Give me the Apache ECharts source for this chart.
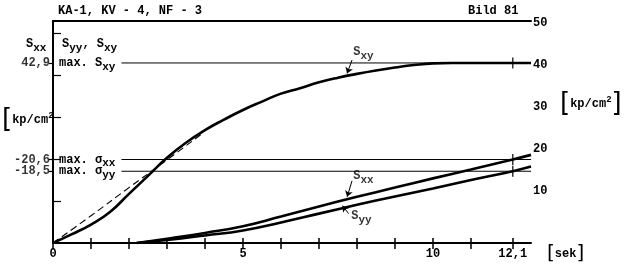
<!DOCTYPE html>
<html><head><meta charset="utf-8">
<script src="https://cdn.jsdelivr.net/npm/echarts@6/dist/echarts.min.js"></script>
<style>html,body{margin:0;padding:0;background:#fff}#c{width:624px;height:270px}</style>
</head><body><div id="c"></div>
<script>
const FONT = '"Liberation Mono", "DejaVu Sans Mono", monospace';

// time in seconds, stress in kp/cm^2 (as drawn against the right-hand scale)
const sxyTime   = [0, 0.5, 1, 1.5, 2, 2.5, 3, 3.5, 4, 4.5, 5, 5.5, 6, 6.5, 7, 7.5, 8, 8.5, 9, 9.5, 10, 10.5, 11, 11.5, 12, 12.58];
const sxyValues = [0, 2.1, 4.4, 7.4, 11.7, 16.0, 20.3, 23.9, 26.9, 29.4, 31.7, 33.7, 35.6, 36.9, 38.3, 39.4, 40.3, 41.1, 41.8, 42.4, 42.8, 42.9, 42.9, 42.9, 42.9, 42.9];
const dashTime   = [0, 1, 2, 3, 3.9];
const dashValues = [0, 6.5, 13.2, 19.8, 25.9];
const sxxTime   = [2.2, 3, 4, 5, 6, 7, 8, 9, 10, 11, 12.1, 12.58];
const sxxValues = [0, 1.0, 2.4, 4.0, 6.3, 8.7, 11.0, 13.2, 15.4, 17.5, 19.9, 21.0];
const syyTime   = [2.2, 3, 4, 5, 6, 7, 8, 9, 10, 11, 12.1, 12.58];
const syyValues = [0, 0.7, 1.8, 3.0, 4.9, 7.0, 9.1, 11.1, 13.0, 15.0, 17.1, 18.2];

// maximum lines: drawn level and printed label
const maxLevels = [42.9, 19.9, 17.1];
const maxLabels = ['42,9', '-20,6', '-18,5'];
const maxNames  = ['{m|max. S}{sub|xy}', '{m|max. σ}{sub|xx}', '{m|max. σ}{sub|yy}'];
const maxStart = 1.8, tEnd = 12.58, tMark = 12.1;

const xLabelValues = [0, 5, 10, 12.1];
const xLabelTexts  = ['0', '5', '10', '12,1'];
const xTickValues  = [0, 1, 2, 3, 4, 5, 6, 7, 8, 9, 10, 11, 12.1];
const rightTickValues = [10, 20, 30, 40, 50];

const rich = {
  m:   {fontFamily: FONT, fontSize: 12, fontWeight: 'bold', color: '#000'},
  sub: {fontFamily: FONT, fontSize: 11, fontWeight: 'bold', color: '#000', padding: [8, 0, 0, 0]},
  sup: {fontFamily: FONT, fontSize: 9, fontWeight: 'bold', color: '#000', padding: [0, 0, 8, 0]},
  br:  {fontFamily: 'DejaVu Sans', fontSize: 26, fontWeight: 'normal', color: '#000'}
};
const zip = (a, b) => a.map((t, i) => [t, b[i]]);

const chart = echarts.init(document.getElementById('c'), null, {renderer: 'canvas'});
const ann = [
  {value: [7.9, 45.5], text: '{m|S}{sub|xy}'},
  {value: [7.9, 16.0], text: '{m|S}{sub|xx}'},
  {value: [7.85, 6.4], text: '{m|S}{sub|yy}'}
];
const series = [
  {type: 'line', data: zip(sxyTime, sxyValues), smooth: true, showSymbol: false,
   lineStyle: {color: '#000', width: 2.6}, z: 5,
   markLine: {silent: true, symbol: ['none', 'arrow'], symbolSize: 6, label: {show: false},
     lineStyle: {color: '#000', width: 1, type: 'solid'},
     data: [[{coord: [7.87, 43.6]}, {coord: [7.74, 40.4]}],
            [{coord: [7.87, 14.8]}, {coord: [7.74, 11.0]}],
            [{coord: [7.78, 7.0]}, {coord: [7.62, 8.9]}]]}},
  {type: 'line', data: zip(dashTime, dashValues), smooth: true, showSymbol: false,
   lineStyle: {color: '#000', width: 1.1, type: [7, 4]}},
  {type: 'line', data: zip(sxxTime, sxxValues), smooth: true, showSymbol: false,
   lineStyle: {color: '#000', width: 2.6}},
  {type: 'line', data: zip(syyTime, syyValues), smooth: true, showSymbol: false,
   lineStyle: {color: '#000', width: 2.6}},
  {type: 'scatter', symbol: 'rect', symbolSize: [1.5, 11], itemStyle: {color: '#000'},
   data: maxLevels.map(v => [tMark, v]), z: 6},
  {type: 'scatter', symbolSize: 0, data: ann.map(a => ({value: a.value,
     label: {show: true, position: 'right', distance: 0, formatter: a.text, rich}}))},
  // left-hand value labels of the maxima
  {type: 'scatter', symbolSize: 0, labelLayout: {hideOverlap: false},
   data: maxLevels.map((v, i) => ({value: [0, v],
     label: {show: true, position: 'left', distance: 3, formatter: maxLabels[i],
       fontFamily: FONT, fontSize: 12, fontWeight: 'bold', color: '#000'}}))}
];
maxLevels.forEach((v, i) => {
  series.push({type: 'line', symbolSize: 0, showSymbol: true,
    lineStyle: {color: '#000', width: 1},
    data: [{value: [maxStart, v], label: {show: true, position: 'left', distance: 6,
             formatter: maxNames[i], rich}}, [tEnd, v]]});
});

chart.setOption({
  animation: false,
  backgroundColor: '#fff',
  grid: {left: 53, right: 93, top: 21, bottom: 27},
  xAxis: [
    {type: 'value', min: 0, max: 12.58, position: 'bottom',
     axisLine: {lineStyle: {color: '#000', width: 2}},
     axisTick: {show: true, customValues: xTickValues, length: 6, lineStyle: {color: '#000', width: 1.5}},
     axisLabel: {customValues: xLabelValues, color: '#000', fontFamily: FONT, fontSize: 12, fontWeight: 'bold', margin: 5,
       formatter: v => xLabelTexts[xLabelValues.indexOf(v)] ?? ''},
     splitLine: {show: false}},
    {type: 'value', min: 0, max: 12.58, position: 'bottom',
     axisLine: {show: false},
     axisTick: {show: true, inside: true, customValues: xTickValues, length: 5, lineStyle: {color: '#000', width: 1.5}},
     axisLabel: {show: false}, splitLine: {show: false}},
    {type: 'value', min: 0, max: 12.58, position: 'top',
     axisLine: {lineStyle: {color: '#000', width: 2}},
     axisTick: {show: false}, axisLabel: {show: false}, splitLine: {show: false}}
  ],
  yAxis: [
    {type: 'value', min: 0, max: 52.9, position: 'left',
     axisLine: {show: true, lineStyle: {color: '#000', width: 2}},
     axisTick: {show: true, customValues: maxLevels, length: 4, lineStyle: {color: '#000', width: 1.2}},
     axisLabel: {show: false},
     splitLine: {show: false}},
    {type: 'value', min: 0, max: 52.9, position: 'right',
     axisLine: {show: true, lineStyle: {color: '#000', width: 2}},
     axisTick: {show: true, customValues: rightTickValues, length: 8, lineStyle: {color: '#000', width: 1.2}},
     axisLabel: {customValues: rightTickValues, color: '#000', fontFamily: FONT, fontSize: 12, fontWeight: 'bold', margin: 2,
       verticalAlign: 'bottom', padding: [0, 0, 4, 0]},
     splitLine: {show: false}}
  ],
  graphic: [
    {type: 'text', left: 58, top: 5, style: {text: 'KA-1, KV - 4, NF - 3', font: 'bold 12px ' + FONT, fill: '#000'}},
    {type: 'text', left: 468, top: 5, style: {text: 'Bild 81', font: 'bold 12px ' + FONT, fill: '#000'}},
    {type: 'text', left: 26, top: 38, style: {text: '{m|S}{sub|xx}', rich}},
    {type: 'text', left: 62, top: 38, style: {text: '{m|S}{sub|yy}{m|, S}{sub|xy}', rich}},
    {type: 'text', left: 2, top: 107, z: -1, style: {text: '{br|[}{m|kp/cm}{sup|2}', rich}},
    {type: 'text', left: 560, top: 91, style: {text: '{br|[}{m|kp/cm}{sup|2}{br|]}', rich}},
    {type: 'text', left: 547, top: 244, style: {text: '{br|[}{m|sek}{br|]}', rich: Object.assign({}, rich, {br: {fontFamily: 'DejaVu Sans', fontSize: 20, color: '#000'}})}}
  ],
  series
});
</script></body></html>
